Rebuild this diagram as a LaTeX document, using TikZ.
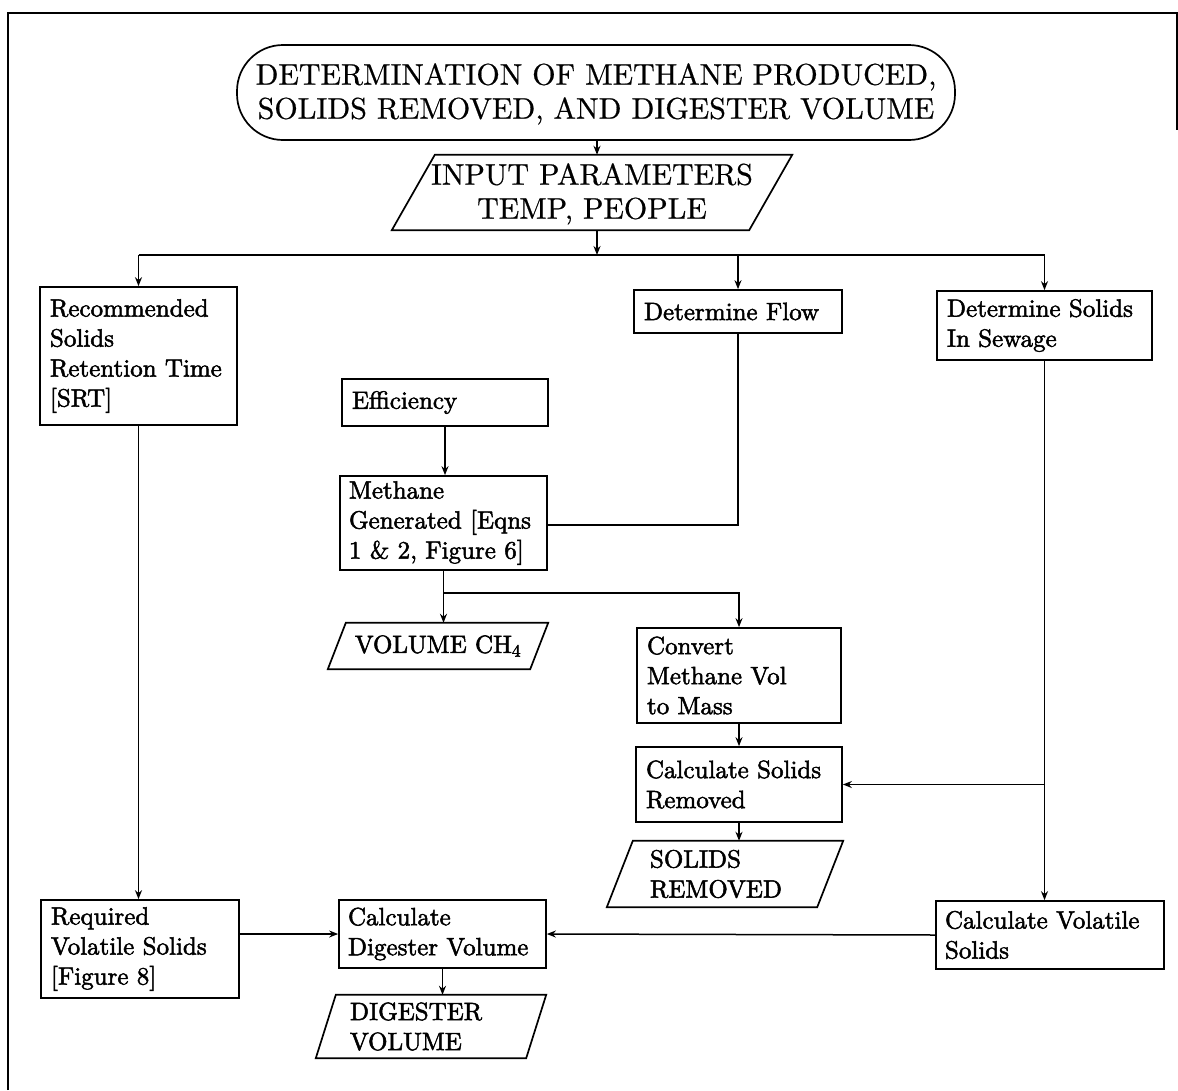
\documentclass[tikz,border=0pt]{standalone}
\usepackage{fontspec}
\usetikzlibrary{arrows.meta}
\newfontfamily\boxfont{lmroman10-regular.otf}[FakeBold=2]
\newfontfamily\headfont{lmroman10-regular.otf}[FakeBold=0.6]
\newcommand\paraoutline[2]{\draw[boxline] ([xshift=#2pt]#1.north west) -- (#1.north east) -- ([xshift=-#2pt]#1.south east) -- (#1.south west) -- cycle;}
\begin{document}
\begin{tikzpicture}[x=1pt,y=-1pt,
  boxline/.style={line width=1.7pt},
  conn/.style={line width=1.5pt},
  arr/.style={conn,-{Stealth[length=9pt,width=7pt]}},
  headtext/.style={font=\headfont\fontsize{30}{34}\selectfont},
  btext/.style={font=\boxfont\fontsize{25}{30}\selectfont},
  procbox/.style={btext,draw,boxline,inner xsep=10pt,inner ysep=4pt,align=left},
  paranode/.style={btext,inner sep=0pt,align=left}
]
\useasboundingbox (0,0) rectangle (1178,1090);
% frame
\draw[line width=1.2pt] (8,1090) -- (8,13) -- (1177,13) -- (1177,130);

% title and input
\node[headtext,draw,boxline,rounded corners=46pt,minimum width=718pt,minimum height=95pt,align=center,text depth=3pt] (title) at (596,92.5)
  {DETERMINATION OF METHANE PRODUCED,\\SOLIDS REMOVED, AND DIGESTER VOLUME};
\node[headtext,inner sep=0pt,minimum width=400pt,minimum height=75pt,align=center,text depth=3pt] (in) at (592,192.5)
  {INPUT PARAMETERS\\TEMP, PEOPLE};
\paraoutline{in}{43}

% process boxes
\node[procbox,minimum width=197pt,minimum height=138pt,text width=177pt] (srt) at (138.5,356)
  {Recommended\\Solids\\Retention Time\\{[SRT]}};
\node[procbox,minimum width=208pt,minimum height=43pt,text width=188pt] (flow) at (738,311.5)
  {Determine Flow};
\node[procbox,minimum width=215pt,minimum height=69pt,text width=195pt] (sew) at (1044.5,325.5)
  {Determine Solids\\In Sewage};
\node[procbox,minimum width=206pt,minimum height=47pt,text width=186pt] (eff) at (445,402.5)
  {Efficiency};
\node[procbox,minimum width=207pt,minimum height=94pt,text width=189pt,inner xsep=9pt] (meth) at (443.5,523)
  {Methane\\Generated [Eqns\\1 \& 2, Figure 6]};
\node[paranode,minimum width=220pt,minimum height=46pt,align=center] (vol) at (438,646)
  {VOLUME CH\textsubscript{4}};
\paraoutline{vol}{18}
\node[procbox,minimum width=204pt,minimum height=95pt,text width=184pt] (conv) at (739,675.5)
  {Convert\\Methane Vol\\to Mass};
\node[procbox,minimum width=206pt,minimum height=75pt,text width=186pt] (calcsol) at (739,784.5)
  {Calculate Solids\\Removed};
\node[paranode,minimum width=236pt,minimum height=66pt,text width=150pt] (solrem) at (725,874)
  {SOLIDS\\REMOVED};
\paraoutline{solrem}{26}
\node[procbox,minimum width=198pt,minimum height=98pt,text width=178pt] (req) at (140,949)
  {Required\\Volatile Solids\\{[Figure 8]}};
\node[procbox,minimum width=207pt,minimum height=68pt,text width=189pt,inner xsep=9pt] (dig) at (442.5,934)
  {Calculate\\Digester Volume};
\node[paranode,minimum width=230pt,minimum height=63pt,text width=162pt] (digvol) at (431,1026.5)
  {DIGESTER\\VOLUME};
\paraoutline{digvol}{20}
\node[procbox,minimum width=228pt,minimum height=68pt,text width=210pt,inner xsep=9pt] (cvs) at (1050,935)
  {Calculate Volatile\\Solids};

% connectors
\coordinate (bus) at (597,255);
\coordinate (br) at (443.5,593);
\draw[arr] (title.south -| bus) -- (in.north -| bus);
\draw[arr] (in.south -| bus) -- (bus);
\draw[conn] (srt.north |- bus) -- (sew.north |- bus);
\draw[arr] (srt.north |- bus) -- (srt.north);
\draw[arr] (flow.north |- bus) -- (flow.north);
\draw[arr] (sew.north |- bus) -- (sew.north);
\draw[arr] (eff.south) -- (eff.south |- meth.north);
\draw[conn] (flow.south) |- ([yshift=-2pt]meth.east);
\draw[conn] (meth.south) -- (br);
\draw[arr] (br) -- (br |- vol.north);
\draw[arr] (br) -| (conv.north);
\draw[arr] (conv.south) -- (calcsol.north);
\draw[arr] (calcsol.south) -- (calcsol.south |- solrem.north);
\draw[arr] (sew.south) -- (sew.south |- cvs.north);
\draw[arr] (sew.south |- calcsol.east) -- (calcsol.east);
\draw[arr] (srt.south) -- (srt.south |- req.north);
\draw[arr] (req.east |- dig.west) -- (dig.west);
\draw[arr] (cvs.west) -- (dig.east);
\draw[arr] (dig.south) -- (dig.south |- digvol.north);
\end{tikzpicture}
\end{document}
